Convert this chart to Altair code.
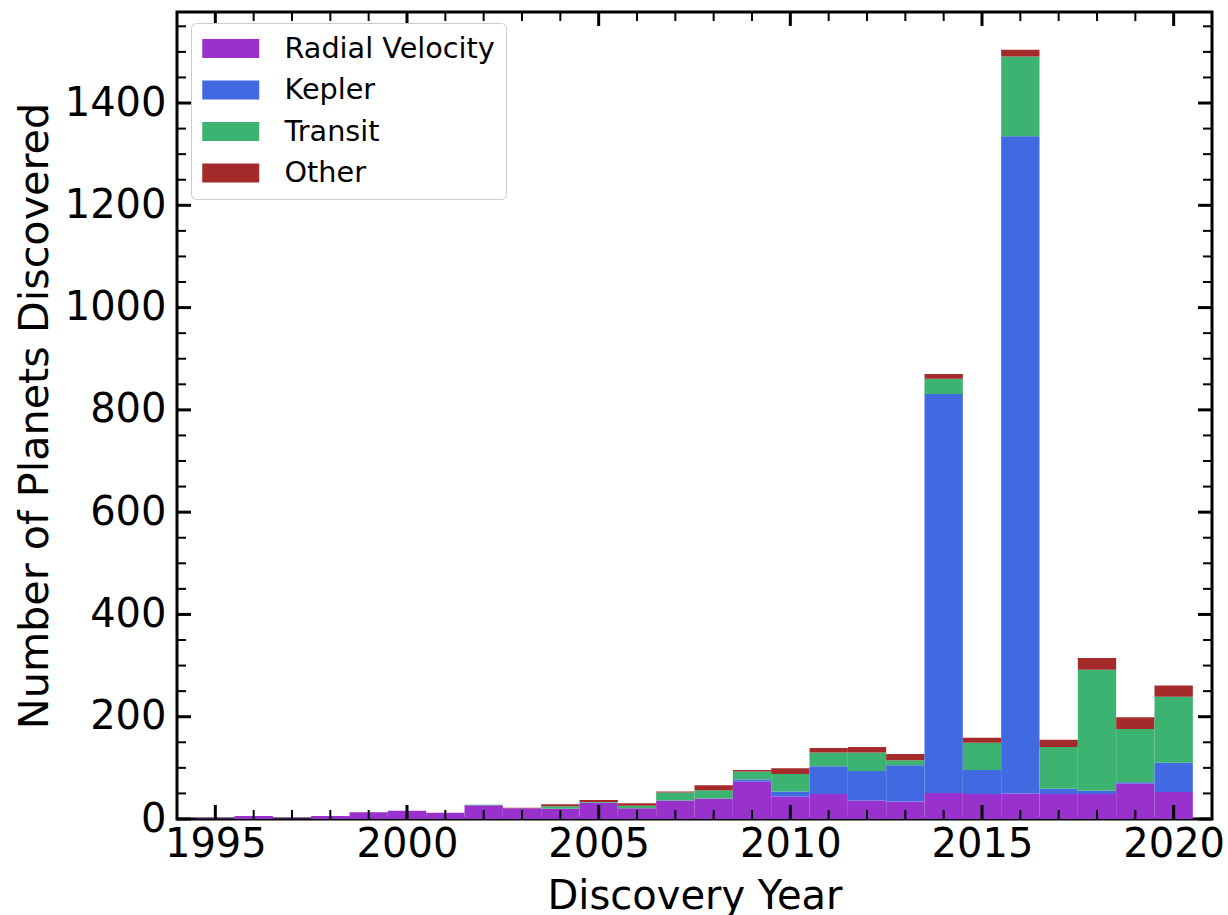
import altair as alt
import pandas as pd

# Planets discovered per year, split by discovery method
years = list(range(1995, 2021))
radial_velocity = [1, 6, 1, 6, 13, 16, 12, 27, 21, 20, 32, 21, 36, 40, 73, 44,
                   49, 36, 34, 51, 49, 50, 49, 49, 69, 53]
kepler = [0, 0, 0, 0, 0, 0, 0, 0, 0, 0, 0, 0, 0, 0, 4, 10,
          54, 58, 71, 780, 47, 1285, 10, 6, 3, 57]
transit = [0, 0, 0, 0, 0, 0, 0, 1, 0, 5, 1, 5, 16, 16, 16, 34,
           27, 36, 10, 30, 53, 156, 82, 237, 104, 129]
other = [0, 0, 0, 0, 0, 0, 0, 0, 1, 4, 4, 5, 2, 10, 3, 11,
         9, 11, 12, 9, 10, 13, 14, 23, 23, 22]

methods = ["Radial Velocity", "Kepler", "Transit", "Other"]
colors = ["#9932cc", "#4169e1", "#3cb371", "#a52a2a"]

# Tick positions (drawn inward on all four sides)
x_major = [1995, 2000, 2005, 2010, 2015, 2020]
x_minor = [y for y in range(1995, 2021) if y not in x_major]
y_major = [0, 200, 400, 600, 800, 1000, 1200, 1400]
y_minor = [v for v in range(50, 1551, 50) if v not in y_major]

W, H = 1035, 807
FONT = "DejaVu Sans"

rows = []
for i, yr in enumerate(years):
    for k, (m, vals) in enumerate(zip(methods, [radial_velocity, kepler, transit, other])):
        rows.append({"year": yr, "method": m, "order": k, "count": vals[i]})
df = pd.DataFrame(rows)

x_scale = alt.Scale(domain=[1994, 2021], nice=False, zero=False)
y_scale = alt.Scale(domain=[0, 1578], nice=False, zero=True)

x_axis = alt.Axis(
    title="Discovery Year", values=x_major, format="d", ticks=False, domain=False,
    grid=False, labelFontSize=40, labelFont=FONT, labelColor="black",
    labelPadding=5, labelOverlap=False, labelFlush=False,
    titleFontSize=40, titleFont=FONT, titleFontWeight="normal", titleColor="black",
    titleBaseline="alphabetic", titleY=89,
)
y_axis = alt.Axis(
    title="Number of Planets Discovered", values=y_major, format="d", ticks=False,
    domain=False, grid=False, labelFontSize=40, labelFont=FONT, labelColor="black",
    labelPadding=11, labelOverlap=False, labelFlush=False,
    titleFontSize=41.3, titleFont=FONT, titleFontWeight="normal", titleColor="black",
    titleBaseline="alphabetic", titleX=-130, titleY=H / 2, titleAngle=270,
)

# Wide flat legend swatch: path spans x in [-1, 3], so it starts at the entry's left edge
swatch = "M-1,-0.667L3,-0.667L3,0.667L-1,0.667Z"

bars = alt.Chart(df).transform_calculate(
    x0="datum.year - 0.5", x1="datum.year + 0.5"
).transform_stack(
    stack="count", groupby=["year"], as_=["y0", "y1"],
    sort=[alt.SortField("order", order="ascending")],
).mark_bar(strokeWidth=0).encode(
    x=alt.X("x0:Q", scale=x_scale, axis=x_axis),
    x2="x1:Q",
    y=alt.Y("y0:Q", scale=y_scale, axis=y_axis),
    y2="y1:Q",
    color=alt.Color("method:N", scale=alt.Scale(domain=methods, range=colors), legend=alt.Legend(
        title=None, orient="none", legendX=14, legendY=11, fillColor="white",
        strokeColor="#cccccc", cornerRadius=5, padding=11,
        labelFontSize=28.7, labelFont=FONT, labelColor="black", labelOffset=53.5,
        labelLimit=400,
        symbolType=swatch, symbolSize=812,
        symbolStrokeWidth=0, symbolOpacity=1, rowPadding=11.5,
    )),
)


def x_ticks(values, length, width):
    d = pd.DataFrame({"v": values})
    bottom = alt.Chart(d).mark_rule(color="black", strokeWidth=width).encode(
        x=alt.X("v:Q", scale=x_scale, axis=x_axis),
        y=alt.value(H), y2=alt.value(H - length))
    top = alt.Chart(d).mark_rule(color="black", strokeWidth=width).encode(
        x=alt.X("v:Q", scale=x_scale, axis=x_axis),
        y=alt.value(0), y2=alt.value(length))
    return [bottom, top]


def y_ticks(values, length, width):
    d = pd.DataFrame({"v": values})
    left = alt.Chart(d).mark_rule(color="black", strokeWidth=width).encode(
        y=alt.Y("v:Q", scale=y_scale, axis=y_axis),
        x=alt.value(0), x2=alt.value(length))
    right = alt.Chart(d).mark_rule(color="black", strokeWidth=width).encode(
        y=alt.Y("v:Q", scale=y_scale, axis=y_axis),
        x=alt.value(W), x2=alt.value(W - length))
    return [left, right]


layers = [bars]
layers += x_ticks(x_major, 14, 3) + x_ticks(x_minor, 9, 2)
layers += y_ticks(y_major, 14, 3) + y_ticks(y_minor, 9, 2)

chart = alt.layer(*layers).properties(
    width=W, height=H,
    autosize=alt.AutoSizeParams(type="none"),
    padding={"left": 177, "top": 12, "right": 16, "bottom": 96},
    background="white",
).configure_view(stroke="black", strokeWidth=3)

chart.save("out.html", embed_options={"renderer": "svg", "actions": False})
